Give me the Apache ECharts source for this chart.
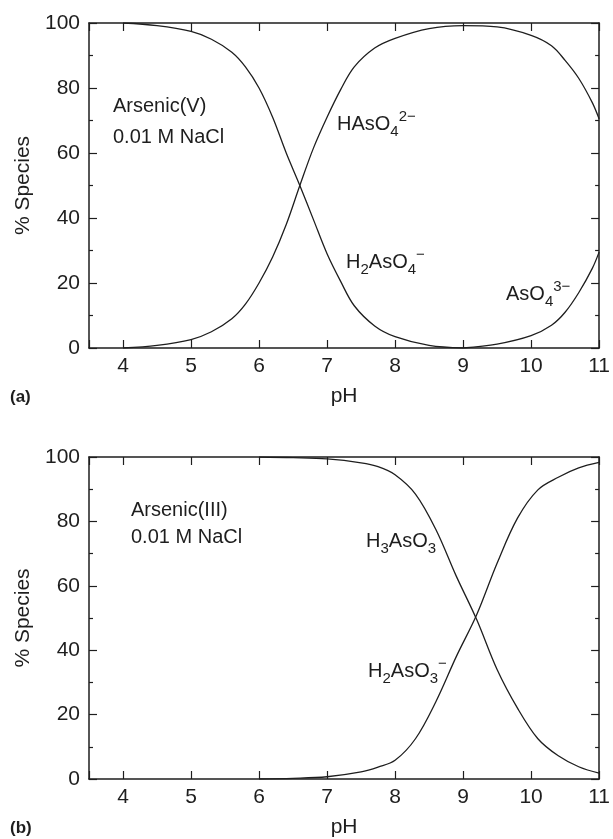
<!DOCTYPE html>
<html>
<head>
<meta charset="utf-8">
<script src="https://cdn.jsdelivr.net/npm/echarts@6/dist/echarts.min.js"></script>
<style>
html,body{margin:0;padding:0;background:#fff;}
#chart{width:613px;height:839px;}
</style>
</head>
<body>
<div id="chart"></div>
<script>
// Panel (a): Arsenic(V)
const phA = [4, 4.5, 5, 5.3, 5.6, 5.8, 6, 6.2, 6.4, 6.6, 6.8, 7, 7.2, 7.4, 7.7, 8, 8.5, 9, 9.5, 10, 10.3, 10.5, 10.7, 10.9, 11];
const h2aso4 = [100, 99.2, 97.4, 95, 91, 86.5, 80, 71, 60, 50, 39.5, 29, 20.5, 13, 6.8, 3.5, 0.8, 0, null, null, null, null, null, null, null];
const haso4  = [0, 0.8, 2.6, 5, 9, 13.5, 20, 28, 38, 50, 61.5, 71, 79.5, 86.5, 92.3, 95.3, 98.3, 99.2, 98.8, 96.2, 93, 88.5, 83, 75.5, 70.5];
const aso4   = [null, null, null, null, null, null, null, null, null, null, null, null, null, null, null, null, null, 0, 1.2, 3.8, 7, 11, 17, 24.5, 29.5];

// Panel (b): Arsenic(III)
const phB = [6, 6.5, 7, 7.5, 7.75, 8, 8.3, 8.6, 8.9, 9.2, 9.5, 9.8, 10.1, 10.4, 10.7, 11];
const h3aso3 = [100, 99.8, 99.4, 98.2, 97, 94.5, 88.5, 77.5, 63, 49.5, 34, 22, 12.5, 7.2, 3.8, 1.8];
const h2aso3 = [0, 0.2, 0.7, 2.2, 3.7, 5.8, 12.5, 24, 38, 51, 67, 81, 89.8, 93.7, 96.6, 98.3];

const xMin = 3.5, xMax = 11;
const yTicks = [0, 20, 40, 60, 80, 100];

const INK = '#1e1e1e';
const TXT = '#1e1e1e';
const FONT = '"Liberation Sans", Arial, Helvetica, sans-serif';

function pairs(xs, ys) { return xs.map((x, i) => [x, ys[i]]); }

function xAxisDef(grid, pos, showLabel) {
  return {
    type: 'value', gridIndex: grid, position: pos, min: xMin, max: xMax, splitNumber: 7,
    axisLine: { show: true, onZero: false, lineStyle: { color: INK, width: 1.5 } },
    axisTick: { show: true, inside: true, length: 8, lineStyle: { color: INK, width: 1.2 } },
    axisLabel: {
      show: showLabel, fontSize: 21, fontFamily: FONT, color: TXT, margin: 8,
      formatter: v => (Number.isInteger(v) ? String(v) : '')
    },
    splitLine: { show: false },
    name: showLabel ? 'pH' : '', nameLocation: 'middle', nameGap: 38,
    nameTextStyle: { fontSize: 21, fontFamily: FONT, color: TXT }
  };
}
function yAxisDef(grid, pos, showLabel) {
  return {
    type: 'value', gridIndex: grid, position: pos, min: yTicks[0], max: yTicks[yTicks.length - 1], interval: 20,
    axisLine: { show: true, onZero: false, lineStyle: { color: INK, width: 1.5 } },
    axisTick: { show: true, inside: true, length: 8, lineStyle: { color: INK, width: 1.2 } },
    minorTick: { show: true, splitNumber: 2, length: 4, lineStyle: { color: INK, width: 1.2 } },
    axisLabel: { show: showLabel, fontSize: 21, fontFamily: FONT, color: TXT, margin: 9 },
    splitLine: { show: false },
    name: showLabel ? '% Species' : '', nameLocation: 'middle', nameGap: 55,
    nameTextStyle: { fontSize: 21, fontFamily: FONT, color: TXT }
  };
}
function lineSeries(xi, yi, data) {
  return {
    type: 'line', xAxisIndex: xi, yAxisIndex: yi, data: data, smooth: 0.35,
    showSymbol: false, connectNulls: false,
    lineStyle: { color: INK, width: 1.3 }, silent: true
  };
}

const main = { fontSize: 20, fontFamily: FONT, fill: TXT, lineHeight: 30, verticalAlign: 'middle' };
const sub = { fontSize: 15, fontFamily: FONT, fill: TXT, lineHeight: 15, verticalAlign: 'bottom' };
const sup = { fontSize: 15, fontFamily: FONT, fill: TXT, lineHeight: 15, verticalAlign: 'top' };
function label(x, y, text, extra) {
  return {
    type: 'text', x: x, y: y, silent: true,
    style: Object.assign({
      text: text, fontSize: 20, fontFamily: FONT, fill: TXT,
      verticalAlign: 'middle', align: 'left',
      rich: { m: main, b: sub, p: sup }
    }, extra || {})
  };
}

const chart = echarts.init(document.getElementById('chart'), null, { renderer: 'canvas' });
chart.setOption({
  animation: false,
  backgroundColor: '#fff',
  grid: [
    { left: 89, top: 23, width: 514, height: 325 },
    { left: 89, top: 457, width: 514, height: 325 }
  ],
  xAxis: [
    xAxisDef(0, 'bottom', true),
    xAxisDef(1, 'bottom', true),
    xAxisDef(0, 'top', false),
    xAxisDef(1, 'top', false)
  ],
  yAxis: [
    yAxisDef(0, 'left', true),
    yAxisDef(1, 'left', true),
    yAxisDef(0, 'right', false),
    yAxisDef(1, 'right', false)
  ],
  series: [
    lineSeries(0, 0, pairs(phA, h2aso4)),
    lineSeries(0, 0, pairs(phA, haso4)),
    lineSeries(0, 0, pairs(phA, aso4)),
    lineSeries(1, 1, pairs(phB, h3aso3)),
    lineSeries(1, 1, pairs(phB, h2aso3))
  ],
  graphic: [
    label(113, 106, 'Arsenic(V)'),
    label(113, 137, '0.01 M NaCl'),
    label(337, 124, '{m|HAsO}{b|4}{p|2−}'),
    label(346, 262, '{m|H}{b|2}{m|AsO}{b|4}{p|−}'),
    label(506, 294, '{m|AsO}{b|4}{p|3−}'),
    label(131, 510, 'Arsenic(III)'),
    label(131, 537, '0.01 M NaCl'),
    label(366, 541, '{m|H}{b|3}{m|AsO}{b|3}'),
    label(368, 671, '{m|H}{b|2}{m|AsO}{b|3}{p|−}'),
    label(10, 397, '(a)', { fontWeight: 'bold', fontSize: 17 }),
    label(10, 828, '(b)', { fontWeight: 'bold', fontSize: 17 })
  ]
});
</script>
</body>
</html>
